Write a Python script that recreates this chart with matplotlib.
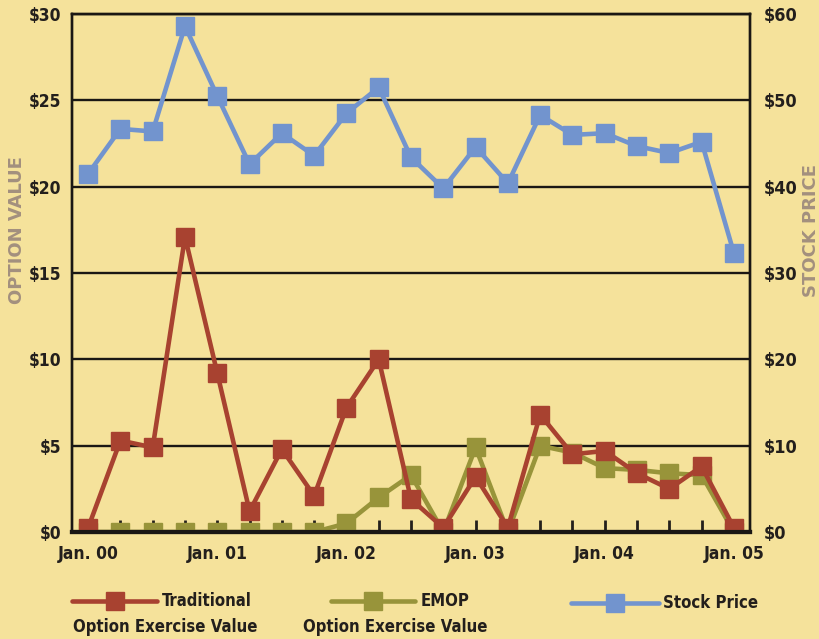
import matplotlib.pyplot as plt
from matplotlib.lines import Line2D

# quarterly points, Jan. 00 .. Jan. 05
quarters = list(range(21))
tick_pos = [0, 4, 8, 12, 16, 20]
tick_labels = ['Jan. 00', 'Jan. 01', 'Jan. 02', 'Jan. 03', 'Jan. 04', 'Jan. 05']

traditional = [0.25, 5.3, 4.9, 17.1, 9.2, 1.2, 4.8, 2.1, 7.2, 10.0, 1.9, 0.25,
               3.2, 0.25, 6.8, 4.5, 4.7, 3.4, 2.5, 3.8, 0.25]
emop = [0, 0, 0, 0, 0, 0, 0, 0, 0.5, 2.0, 3.3, 0, 4.9, 0, 5.0, 4.6, 3.7,
        3.6, 3.4, 3.3, 0]
stock = [41.5, 46.7, 46.4, 58.6, 50.5, 42.6, 46.2, 43.6, 48.5, 51.5, 43.4,
         39.8, 44.6, 40.4, 48.3, 46.0, 46.2, 44.7, 43.9, 45.2, 32.3]

left_ticks = [0, 5, 10, 15, 20, 25, 30]
right_ticks = [0, 10, 20, 30, 40, 50, 60]

bg = '#F5E29B'
c_red = '#A84230'
c_olive = '#98943A'
c_blue = '#7294CE'
c_label = '#A3907E'
c_text = '#231F1C'

plt.rcParams['font.family'] = ['DejaVu Sans']
plt.rcParams['font.stretch'] = 'condensed'

fig = plt.figure(figsize=(8.19, 6.39), dpi=100, facecolor=bg)
ax = fig.add_axes([0.0879, 0.1674, 0.8279, 0.8106])
ax.set_facecolor(bg)
ax2 = ax.twinx()

lw = 3.3
ms = 12.5
ax.plot(quarters, emop, '-s', color=c_olive, lw=lw, ms=ms, zorder=3)
ax.plot(quarters, traditional, '-s', color=c_red, lw=lw, ms=ms, zorder=4)
ax2.plot(quarters, stock, '-s', color=c_blue, lw=lw, ms=ms, zorder=3)

ax.set_xlim(-0.5, 20.5)
ax.set_ylim(0, 30)
ax2.set_ylim(0, 60)

fs = 12

# grid lines
ax.set_yticks(left_ticks)
ax.set_yticklabels(['$' + str(v) for v in left_ticks])
ax.yaxis.grid(True, color='#1A1714', lw=1.7, zorder=1)
ax.set_axisbelow(True)
ax.tick_params(axis='y', length=0, pad=8, labelsize=fs + 0.5, colors=c_text)
for t in ax.get_yticklabels():
    t.set_fontweight('bold')

ax2.set_yticks(right_ticks)
ax2.set_yticklabels(['$' + str(v) for v in right_ticks])
ax2.tick_params(axis='y', length=0, pad=10, labelsize=fs + 1, colors=c_text)
for t in ax2.get_yticklabels():
    t.set_fontweight('bold')

# quarter ticks pointing up, labels every year
ax.set_xticks(quarters, minor=True)
ax.set_xticks(tick_pos)
ax.set_xticklabels(tick_labels, fontweight='bold')
ax.tick_params(axis='x', which='both', direction='in', length=9, width=2,
               color=c_text, labelsize=fs + 0.5, labelcolor=c_text, pad=9)

for a in (ax, ax2):
    for s in ['left', 'right', 'top']:
        a.spines[s].set_color('#1A1714')
        a.spines[s].set_linewidth(1.7)
    a.spines['bottom'].set_color('#1A1714')
    a.spines['bottom'].set_linewidth(3)

fig.text(0.021, 0.64, 'OPTION VALUE', rotation=90, ha='center', va='center',
         color=c_label, fontsize=13, fontweight='bold', stretch='normal')
fig.text(0.990, 0.64, 'STOCK PRICE', rotation=90, ha='center', va='center',
         color=c_label, fontsize=13, fontweight='bold', stretch='normal')

# legend drawn by hand to get the two-line layout
def legend_item(x0, x1, y, color, text1, tx1, text2, tx2):
    fig.add_artist(Line2D([x0, x1], [y, y], color=color, lw=lw,
                          solid_capstyle='round', transform=fig.transFigure))
    fig.add_artist(Line2D([(x0 + x1) / 2], [y], marker='s', ms=ms, color=color,
                          transform=fig.transFigure))
    fig.text(tx1, y, text1, ha='left', va='center', fontsize=fs,
             fontweight='bold', color=c_text)
    if text2:
        fig.text(tx2, 0.019, text2, ha='center', va='center', fontsize=fs,
                 fontweight='bold', color=c_text)

legend_item(0.088, 0.192, 0.059, c_red, 'Traditional', 0.198,
            'Option Exercise Value', 0.202)
legend_item(0.404, 0.507, 0.059, c_olive, 'EMOP', 0.514,
            'Option Exercise Value', 0.482)
legend_item(0.697, 0.805, 0.057, c_blue, 'Stock Price', 0.809, None, 0)

fig.savefig('out.png', dpi=100, facecolor=bg)
